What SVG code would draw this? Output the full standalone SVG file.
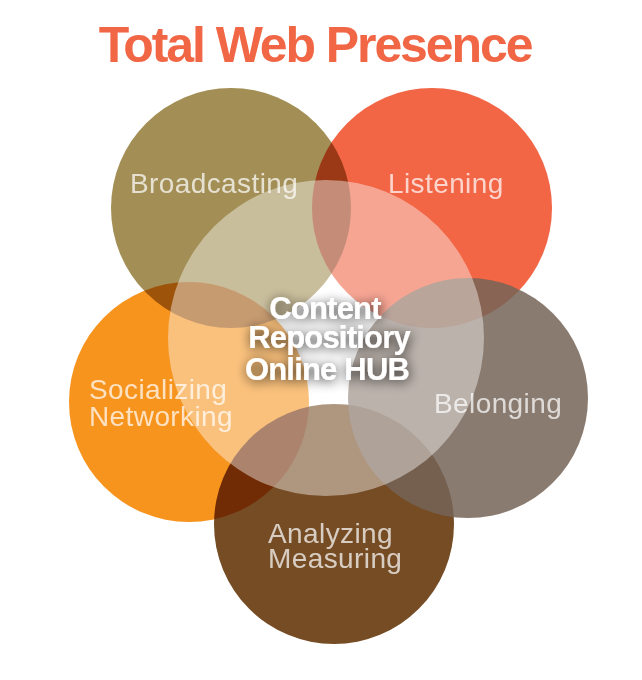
<svg xmlns="http://www.w3.org/2000/svg" width="642" height="680" viewBox="0 0 642 680">
<defs>
<style>
.mul{mix-blend-mode:multiply}
.lbl{font-family:"Liberation Sans",Arial,sans-serif;font-size:28px;fill:#fff;fill-opacity:0.72;letter-spacing:0.4px}
.hub{font-family:"Liberation Sans",Arial,sans-serif;font-size:31px;font-weight:bold;fill:#fff;letter-spacing:-0.8px;text-anchor:middle}
</style>
<filter id="glow" x="-30%" y="-50%" width="160%" height="200%">
<feGaussianBlur in="SourceAlpha" stdDeviation="6" result="b"/>
<feOffset in="b" dx="1" dy="2" result="o"/>
<feComponentTransfer in="o" result="s"><feFuncA type="linear" slope="0.8"/></feComponentTransfer>
<feMerge><feMergeNode in="s"/><feMergeNode in="SourceGraphic"/></feMerge>
</filter>
</defs>
<rect width="642" height="680" fill="#fff"/>
<text x="315" y="62" text-anchor="middle" font-family="Liberation Sans,Arial,sans-serif" font-weight="bold" font-size="50" letter-spacing="-2.1" fill="#F16645">Total Web Presence</text>
<g id="broadcasting"><circle class="mul" cx="231" cy="208" r="120" fill="#A38F55"/></g>
<g id="listening"><circle class="mul" cx="432" cy="208" r="120" fill="#F26545"/></g>
<g id="socializing"><circle class="mul" cx="189" cy="402" r="120" fill="#F7941E"/></g>
<g id="analyzing"><circle class="mul" cx="334" cy="524" r="120" fill="#754C24"/></g>
<g id="belonging"><circle cx="468" cy="398" r="120" fill="#756457" fill-opacity="0.85"/></g>
<g id="hub"><circle cx="326" cy="338" r="158" fill="#fff" fill-opacity="0.42"/></g>
<g id="labels">
<text class="lbl" x="130" y="193">Broadcasting</text>
<text class="lbl" x="388" y="193">Listening</text>
<text class="lbl" x="89" y="399">Socializing</text>
<text class="lbl" x="89" y="426">Networking</text>
<text class="lbl" x="434" y="413">Belonging</text>
<text class="lbl" x="268" y="543">Analyzing</text>
<text class="lbl" x="268" y="568">Measuring</text>
<g filter="url(#glow)">
<text class="hub" x="325" y="319">Content</text>
<text class="hub" x="329" y="348">Repositiory</text>
<text class="hub" x="327" y="380">Online HUB</text>
</g>
</g>
<g id="connectors"/>
</svg>
